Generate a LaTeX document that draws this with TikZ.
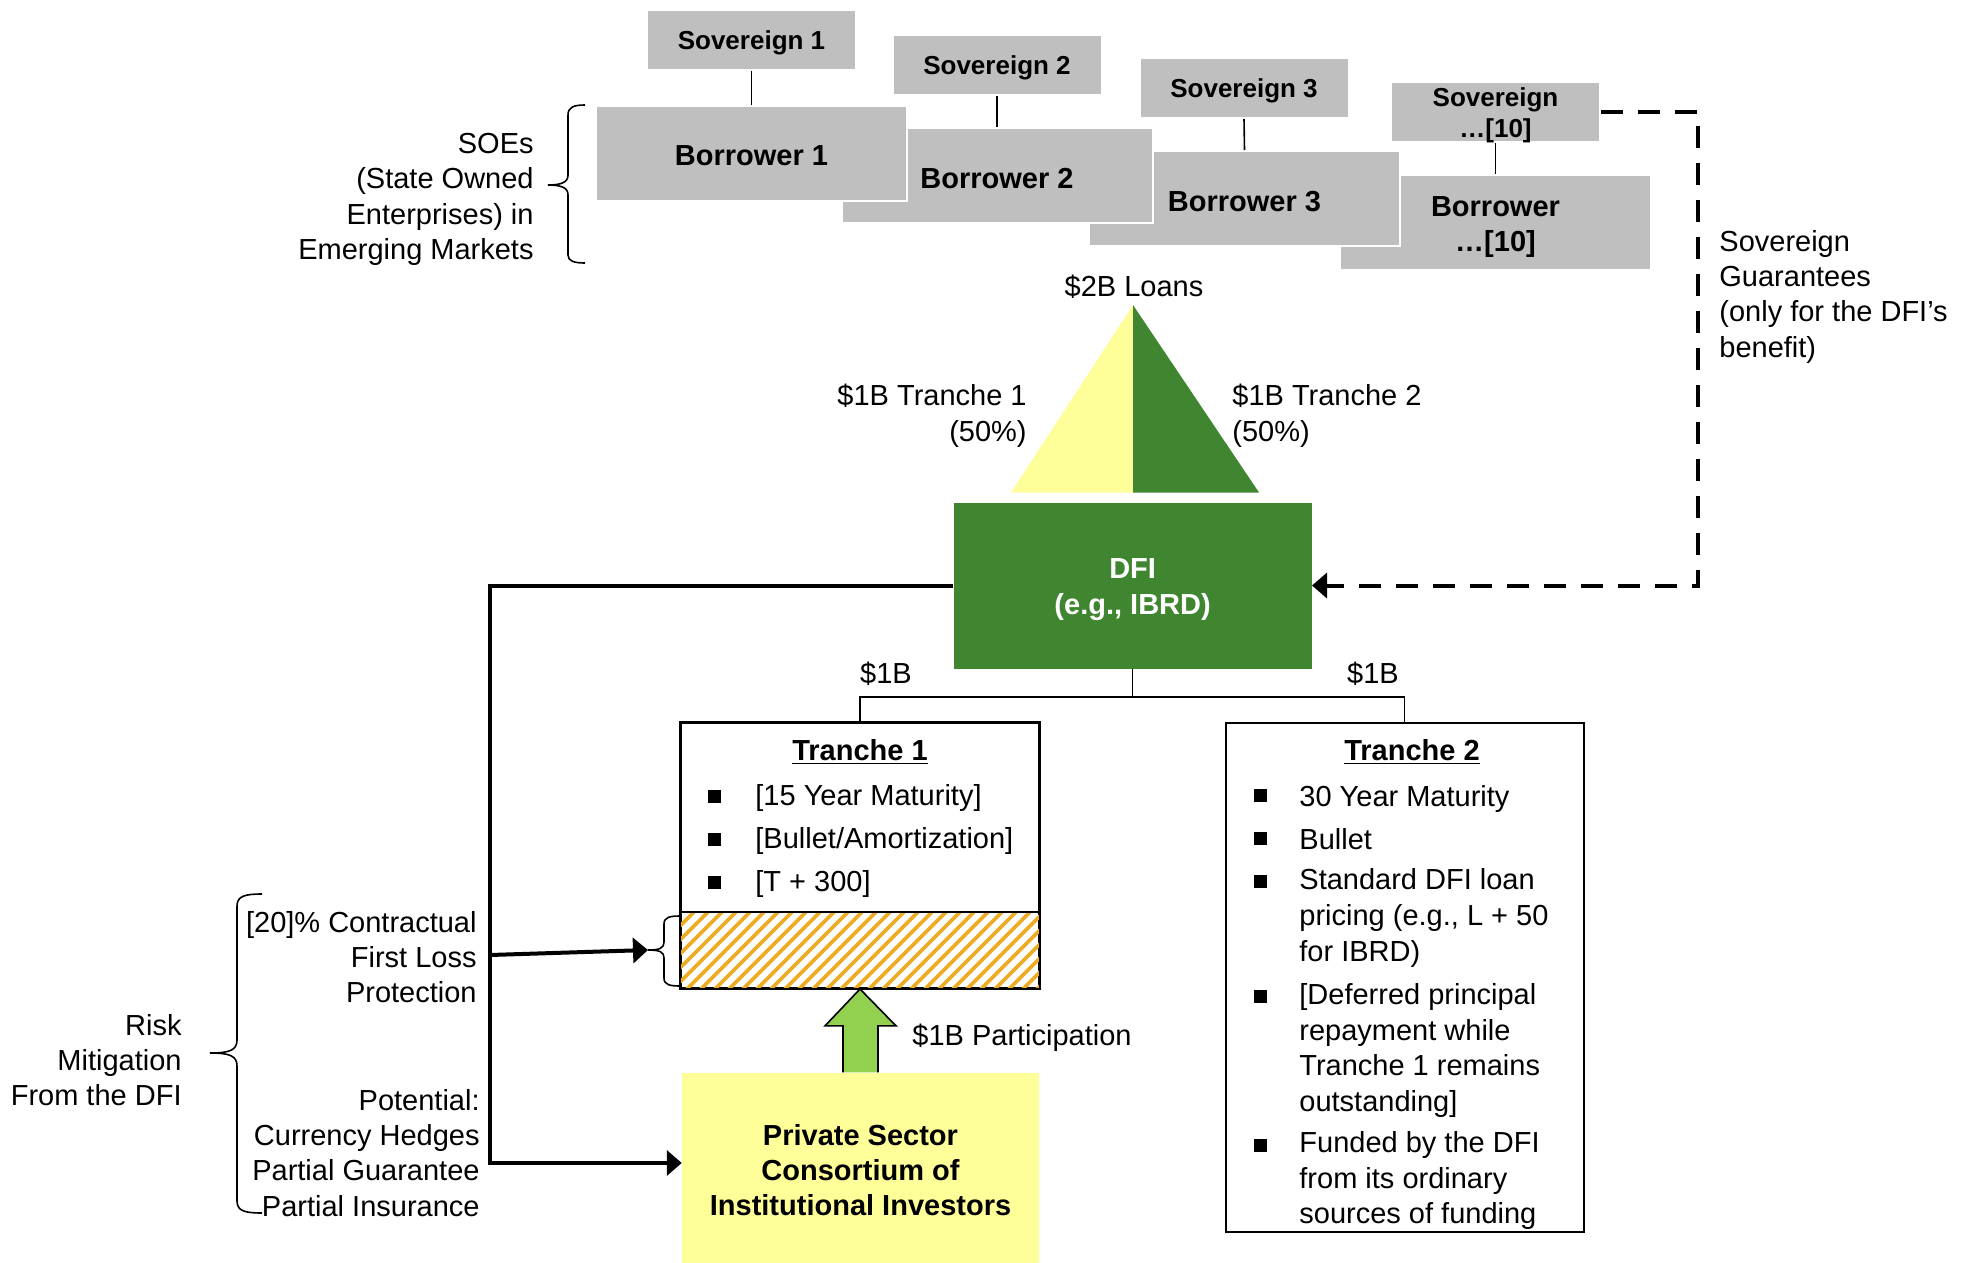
\documentclass[tikz,border=0pt]{standalone}
\usepackage{fontspec}
\setmainfont{Liberation Sans}
\usetikzlibrary{arrows.meta,calc}
\definecolor{boxgray}{RGB}{191,191,191}
\definecolor{dfigreen}{RGB}{64,134,48}
\definecolor{paleyellow}{RGB}{255,255,153}
\definecolor{arrowgreen}{RGB}{146,208,80}
\definecolor{hatchorange}{RGB}{238,172,36}
\begin{document}
\begin{tikzpicture}[x=0.5pt,y=-0.5pt,
  txt/.style={inner sep=0pt, font=\fontsize{14.5}{17.6}\selectfont, execute at begin node=\strut, execute at end node=\strut},
  txtb/.style={txt, font=\bfseries\fontsize{14.5}{17.6}\selectfont},
  lblR/.style={txt, align=right, anchor=north east},
  lblL/.style={txt, align=left, anchor=north west},
  gbox/.style={fill=boxgray, draw=white, line width=1pt, inner sep=0pt},
  sov/.style={gbox, minimum width=104.5pt, minimum height=30pt},
  bor/.style={gbox, minimum width=155.5pt, minimum height=47.5pt},
  sovlbl/.style={align=center, inner sep=0pt, font=\bfseries\fontsize{13}{15.5}\selectfont, yshift=-1.6pt},
  borlbl/.style={align=center, inner sep=0pt, font=\bfseries\fontsize{14.5}{17.6}\selectfont, yshift=-1.3pt},
  conn/.style={line width=0.8pt},
  boxline/.style={draw=black, line width=1pt},
  tbox/.style={boxline, inner sep=0pt, minimum width=179pt},
  bul/.style={fill=black, inner sep=0pt, minimum size=6.5pt},
  riskarrow/.style={line width=2pt, line join=miter, -{Triangle[length=7.5pt,width=12.5pt]}},
  guar/.style={line width=2pt, line join=miter, dash pattern=on 11pt off 7.5pt, -{Triangle[length=7.5pt,width=12.5pt]}},
  dfibox/.style={fill=dfigreen, inner sep=0pt, minimum width=179pt, minimum height=83pt},
  dfilbl/.style={text=white, align=center, inner sep=0pt, font=\bfseries\fontsize{14.5}{17.6}\selectfont, yshift=-2pt},
  privbox/.style={txtb, fill=paleyellow, minimum width=178.75pt, minimum height=102.25pt, align=center}
]
\useasboundingbox (0,0) rectangle (1970,1263);

% ---- Sovereigns and borrowers
\node[sov, label={[sovlbl]center:Sovereign 1}] (s1) at (751.5,40) {};
\node[sov, label={[sovlbl]center:Sovereign 2}] (s2) at (997,65) {};
\node[sov, label={[sovlbl]center:Sovereign 3}] (s3) at (1244,88) {};
\node[sov, label={[sovlbl, yshift=-0.2pt]center:Sovereign\\…[10]}] (s10) at (1495.5,112) {};
\node[bor, label={[borlbl, yshift=-1.3pt]center:Borrower\\…[10]}] (b10) at (1495.5,222) {};
\node[bor, label={[borlbl]center:Borrower 3}] (b3) at (1244.5,198.5) {};
\node[bor, label={[borlbl]center:Borrower 2}] (b2) at (997,175.5) {};
\node[bor, label={[borlbl]center:Borrower 1}] (b1) at (751.5,153.5) {};
\draw[conn] (s1.south) -- (b1.north);
\draw[conn] (s2.south) -- (b2.north);
\draw[conn] (s3.south) -- (b3.north);
\draw[conn] (s10.south) -- (b10.north);

% ---- SOE label and brace
\node[lblR] (soe) at (534,133) {SOEs\\(State Owned\\Enterprises) in\\Emerging Markets};
\draw[conn] (585,105) .. controls (574,105) and (568,107) .. (568,115) -- (568,175)
  .. controls (568,182) and (562,185) .. (548,185) .. controls (562,185) and (568,188) .. (568,195)
  -- (568,255) .. controls (568,261) and (574,263) .. (585,263);

% ---- Loans triangle
\node[txt] (loans) at (1134,289) {\$2B Loans};
\coordinate (apex) at (1133,305);
\fill[paleyellow] (1011,492.5) -- (apex) -- (1133,492.5) -- cycle;
\fill[dfigreen] (apex) -- (1259,492.5) -- (1133,492.5) -- cycle;
\node[lblR] (tr1lbl) at (1027,384) {\$1B Tranche 1\\(50\%)};
\node[lblL] (tr2lbl) at (1232,384) {\$1B Tranche 2\\(50\%)};

% ---- DFI
\node[dfibox, label={[dfilbl]center:DFI\\(e.g., IBRD)}] (dfi) at (1132.6,585.5) {};

% ---- Sovereign guarantees
\node[lblL] (guartxt) at (1719,230) {Sovereign\\Guarantees\\(only for the DFI’s\\benefit)};
\coordinate (gx) at (1698,0);
\draw[guar] (s10.east) -- (s10.east -| gx) -- (gx |- dfi.east) -- (dfi.east);

% ---- Tranche boxes
\node[tbox, minimum height=132.75pt] (t1) at (860,855.25) {};
\node[tbox, minimum height=254.75pt] (t2) at (1404.5,977.25) {};
\coordinate (div) at (860,912);
\begin{scope}
  \clip (t1.west |- div) rectangle (t1.south east);
  \foreach \k in {-8,...,30} {
    \draw[hatchorange, line width=1.8pt] (681+14*\k,995) -- (681+14*\k+90,905);
  }
\end{scope}
\draw[boxline] (t1.west |- div) -- (t1.east |- div);
\draw[boxline] (t1.south west) rectangle (t1.north east);

\coordinate (split) at (1132.6,696.7);
\draw[conn] (dfi.south) -- (split);
\draw[conn] (t1.north) |- (split) -| (t2.north);
\node[txt] (amt1) at (886,676) {\$1B};
\node[txt] (amt2) at (1373,676) {\$1B};

% Tranche 1 content
\node[txtb] (t1title) at (860,753) {\underline{Tranche 1}};
\node[bul] at (714,796) {};
\node[bul] at (714,839) {};
\node[bul] at (714,882) {};
\node[lblL] (t1a) at (755,780) {[15 Year Maturity]};
\node[lblL] (t1b) at (755,823) {[Bullet/Amortization]};
\node[lblL] (t1c) at (755,866) {[T + 300]};

% Tranche 2 content
\node[txtb] (t2title) at (1412,753) {\underline{Tranche 2}};
\node[bul] at (1260,795) {};
\node[bul] at (1260,838) {};
\node[bul] at (1260,881) {};
\node[bul] at (1260,996) {};
\node[bul] at (1260,1145) {};
\node[lblL] (t2a) at (1299,781) {30 Year Maturity};
\node[lblL] (t2b) at (1299,824) {Bullet};
\node[lblL, font=\fontsize{14.5}{17.9}\selectfont] (t2c) at (1299,868) {Standard DFI loan\\pricing (e.g., L + 50\\for IBRD)};
\node[lblL, font=\fontsize{14.5}{17.8}\selectfont] (t2d) at (1299,983) {[Deferred principal\\repayment while\\Tranche 1 remains\\outstanding]};
\node[lblL, font=\fontsize{14.5}{17.8}\selectfont] (t2e) at (1299,1131) {Funded by the DFI\\from its ordinary\\sources of funding};

% ---- Private sector
\node[privbox] (priv) at (860.5,1175) {Private Sector\\Consortium of\\Institutional Investors};
\filldraw[fill=arrowgreen, draw=black, line width=0.8pt, line join=miter]
  ($(priv.north)+(-17.5,0)$) -- ++(0,-46.5) -- ++(-18,0) -- (t1.south)
  -- ($(priv.north)+(35.5,-46.5)$) -- ++(-18,0) -- ($(priv.north)+(17.5,0)$);
\node[txt, anchor=west] (partic) at (912,1038) {\$1B Participation};

% ---- Risk mitigation
\coordinate (vx) at (490,0);
\coordinate (privin) at (681.75,1163);
\draw[riskarrow] (dfi.west) -- (vx |- dfi.west) -- (vx |- privin) -- (privin);
\coordinate (flstart) at (490,955);
\coordinate (fltip) at (648,950);
\draw[riskarrow] (flstart) -- (fltip);
\draw[conn] (681,916) .. controls (670,916) and (664,917) .. (664,924) -- (664,942)
  .. controls (664,948) and (660,950) .. (648,950) .. controls (660,950) and (664,952) .. (664,958)
  -- (664,978) .. controls (664,985) and (670,986) .. (681,986);

\node[lblR] (flp) at (477,911) {[20]\% Contractual\\First Loss\\Protection};
\node[lblR] (pot) at (480,1089) {Potential:\\Currency Hedges\\Partial Guarantee\\Partial Insurance};
\node[lblR] (risk) at (182,1014) {Risk\\Mitigation\\From the DFI};
\draw[conn] (262,894) .. controls (245,894) and (237,896) .. (237,906) -- (237,1040)
  .. controls (237,1050) and (230,1053) .. (210,1053) .. controls (230,1053) and (237,1056) .. (237,1066)
  -- (237,1201) .. controls (237,1211) and (245,1213) .. (262,1213);
\end{tikzpicture}
\end{document}
